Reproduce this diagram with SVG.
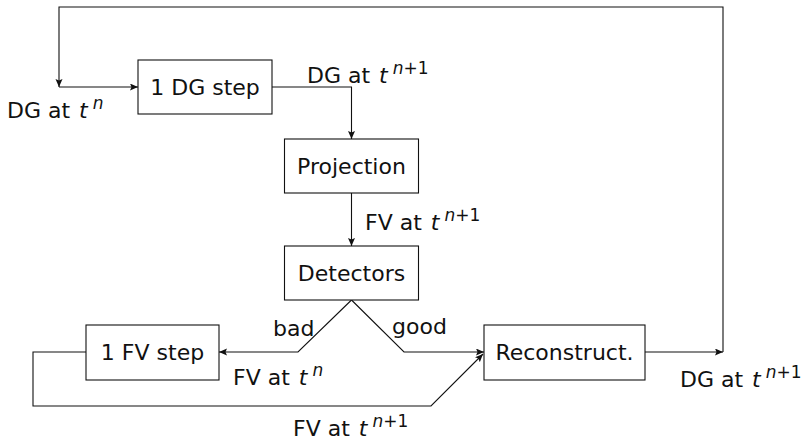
<svg xmlns="http://www.w3.org/2000/svg" width="804" height="441" viewBox="0 0 804 441">
<style>
text{font-family:"DejaVu Sans","Liberation Sans",sans-serif;font-size:22px;fill:#111}
.c{text-anchor:middle}
.box{fill:#fff;stroke:#111;stroke-width:1.1}
.ln{fill:none;stroke:#111;stroke-width:1.1}
.it{font-style:italic}
.sup{font-size:17px}
</style>
<defs>
<marker id="ah" markerUnits="userSpaceOnUse" markerWidth="10" markerHeight="8" refX="8" refY="3.5" orient="auto">
<path d="M0,0 L8,3.5 L0,7 L1.5,3.5 z" fill="#111"/>
</marker>
</defs>
<rect width="804" height="441" fill="#fff"/>
<g id="connectors">
<path class="ln" d="M645,352 H723" marker-end="url(#ah)"/>
<path class="ln" d="M723,352 V7 H59 V87" marker-end="url(#ah)"/>
<path class="ln" d="M59,87 H138" marker-end="url(#ah)"/>
<path class="ln" d="M272,87 H351.5 V139" marker-end="url(#ah)"/>
<path class="ln" d="M351.5,193 V246" marker-end="url(#ah)"/>
<path class="ln" d="M351.5,300 L298,352 H219" marker-end="url(#ah)"/>
<path class="ln" d="M351.5,300 L404,352 H484" marker-end="url(#ah)"/>
<path class="ln" d="M86,352 H33 V406 H431 L483,354" marker-end="url(#ah)"/>
</g>
<g id="labels">
<text x="7" y="118">DG at <tspan class="it" dx="2">t</tspan><tspan class="sup it" dx="5" dy="-9">n</tspan></text>
<text x="307" y="83">DG at <tspan class="it" dx="2">t</tspan><tspan class="sup" dx="5" dy="-9"><tspan class="it">n</tspan>+1</tspan></text>
<text x="365" y="230">FV at <tspan class="it" dx="2">t</tspan><tspan class="sup" dx="5" dy="-9"><tspan class="it">n</tspan>+1</tspan></text>
<text x="273" y="336">bad</text>
<text x="392" y="334">good</text>
<text x="233" y="385">FV at <tspan class="it" dx="2">t</tspan><tspan class="sup it" dx="5" dy="-9">n</tspan></text>
<text x="293" y="436">FV at <tspan class="it" dx="2">t</tspan><tspan class="sup" dx="5" dy="-9"><tspan class="it">n</tspan>+1</tspan></text>
<text x="680" y="387">DG at <tspan class="it" dx="2">t</tspan><tspan class="sup" dx="5" dy="-9"><tspan class="it">n</tspan>+1</tspan></text>
</g>
<g id="dgstep">
<rect class="box" x="138" y="60" width="134" height="54"/>
<text class="c" x="205" y="95">1 DG step</text>
</g>
<g id="projection">
<rect class="box" x="284.5" y="139" width="134" height="54"/>
<text class="c" x="351.5" y="174">Projection</text>
</g>
<g id="detectors">
<rect class="box" x="284.5" y="246" width="134" height="54"/>
<text class="c" x="351.5" y="281">Detectors</text>
</g>
<g id="fvstep">
<rect class="box" x="86" y="325" width="133" height="55"/>
<text class="c" x="152.5" y="360">1 FV step</text>
</g>
<g id="reconstruct">
<rect class="box" x="484" y="325" width="161" height="55"/>
<text class="c" x="564.5" y="360">Reconstruct.</text>
</g>
</svg>
